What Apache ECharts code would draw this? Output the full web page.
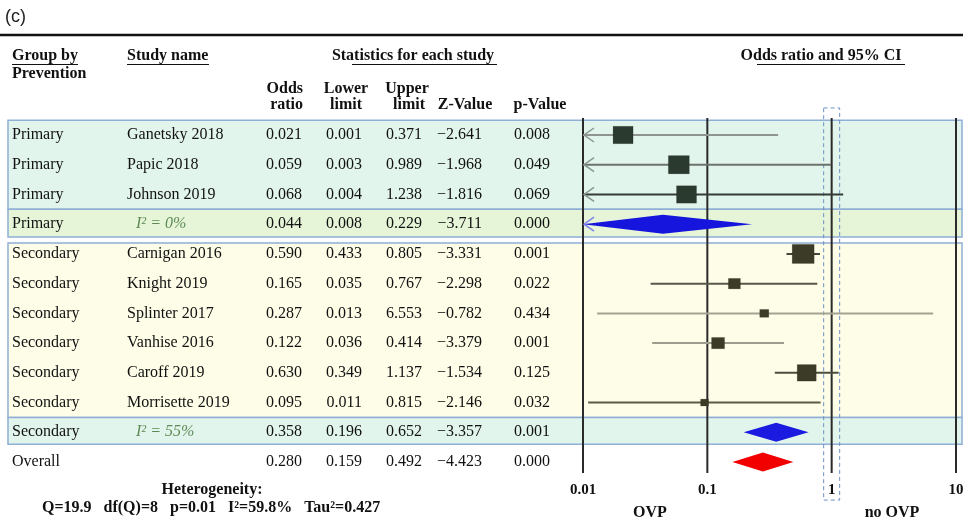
<!DOCTYPE html>
<html>
<head>
<meta charset="utf-8">
<script src="https://cdn.jsdelivr.net/npm/echarts@6.0.0/dist/echarts.min.js"></script>
<style>html,body{margin:0;padding:0;background:#fff;}#chart{width:963px;height:521px;}</style>
</head>
<body>
<div id="chart"></div>
<script>
// ---------- data ----------
const groups = ['Primary','Primary','Primary','Primary','Secondary','Secondary','Secondary','Secondary','Secondary','Secondary','Secondary','Overall'];
const studyNames = ['Ganetsky 2018','Papic 2018','Johnson 2019','I\u00B2 = 0%','Carnigan 2016','Knight 2019','Splinter 2017','Vanhise 2016','Caroff 2019','Morrisette 2019','I\u00B2 = 55%',''];
const rowKinds = ['study','study','study','summary','study','study','study','study','study','study','summary','overall'];
const oddsRatio = [0.021,0.059,0.068,0.044,0.590,0.165,0.287,0.122,0.630,0.095,0.358,0.280];
const lowerLimit = [0.001,0.003,0.004,0.008,0.433,0.035,0.013,0.036,0.349,0.011,0.196,0.159];
const upperLimit = [0.371,0.989,1.238,0.229,0.805,0.767,6.553,0.414,1.137,0.815,0.652,0.492];
const zValue = [-2.641,-1.968,-1.816,-3.711,-3.331,-2.298,-0.782,-3.379,-1.534,-2.146,-3.357,-4.423];
const pValue = [0.008,0.049,0.069,0.000,0.001,0.022,0.434,0.001,0.125,0.032,0.001,0.000];
// relative weight (% of largest box area)
const relativeWeight = [83,91,83,null,100,30,17,35,75,13,null,null];
const axisTicks = [0.01,0.1,1,10];

// ---------- styles / layout ----------
const AX_MIN = 0.01, AX_MAX = 10;
const lineColors = ['#8e948e','#6c726c','#353c35',null,'#45453a','#58584a','#a3a391','#9d9d8e','#4d4d3e','#5a5a46',null,null];
const squareColors = {Primary:'#2b3a2f', Secondary:'#3b3b27'};
const diamondColors = ['', '', '', '#1515dd', '', '', '', '', '', '', '#1a1ae0', '#f20000'];
const boxes = [
  {top:-0.5, bottom:2.5, fill:'#e2f5ec'},
  {top:2.5, bottom:3.43, fill:'#e6f5d8'},
  {top:3.63, bottom:9.5, fill:'#fefde7'},
  {top:9.5, bottom:10.4, fill:'#e2f5ec'}
];
const SERIF = '"Liberation Serif","Times New Roman",serif';
const fmt3 = v => v.toFixed(3);
const fmtZ = v => (v < 0 ? '\u2212' : '') + Math.abs(v).toFixed(3);

const chart = echarts.init(document.getElementById('chart'), null, {renderer:'canvas'});

function T(text, x, y, opt) {
  opt = opt || {};
  return {type:'text', x:x, y:y, silent:true, z: 50, style:{
    text:text, font: opt.font || ('bold 16px ' + SERIF), fill: opt.fill || '#111',
    align: opt.align || 'left', textAlign: opt.align || 'left',
    verticalAlign:'middle', textVerticalAlign:'middle'}};
}
function L(x1, y1, x2, y2, w, c) {
  return {type:'line', silent:true, z:50, shape:{x1:x1,y1:y1,x2:x2,y2:y2}, style:{stroke:c||'#222', lineWidth:w||1}};
}

const graphics = [
  T('(c)', 5, 17, {font:'18px "Liberation Sans",Arial,sans-serif', fill:'#222'}),
  L(0, 35, 963, 35, 2.5, '#111'),
  T('Group by', 12, 56), L(12, 64.5, 78, 64.5, 1.2, '#111'),
  T('Prevention', 12, 74),
  T('Study name', 127, 56), L(127, 64.5, 209, 64.5, 1.2, '#111'),
  T('Statistics for each study', 413, 56, {align:'center'}), L(352, 64.5, 497, 64.5, 1.2, '#111'),
  T('Odds ratio and 95% CI', 821, 56, {align:'center'}), L(757, 64.5, 905, 64.5, 1.2, '#111'),
  T('Odds', 303, 89, {align:'right'}), T('ratio', 303, 105, {align:'right'}),
  T('Lower', 346, 89, {align:'center'}), T('limit', 346, 105, {align:'center'}),
  T('Upper', 407, 89, {align:'center'}), T('limit', 409, 105, {align:'center'}),
  T('Z-Value', 465, 105, {align:'center'}),
  T('p-Value', 540, 105, {align:'center'}),
  T('Heterogeneity:', 212, 490, {align:'center'}),
  T('Q=19.9   df(Q)=8   p=0.01   I\u00B2=59.8%   Tau\u00B2=0.427', 42, 508),
  T('OVP', 650, 513, {align:'center'}),
  T('no OVP', 892, 513, {align:'center'})
];

const rowIdx = oddsRatio.map((v, i) => i);

const option = {
  animation: false,
  backgroundColor: '#ffffff',
  grid: {left: 583, right: 7, top: 105.27, bottom: 41.14, containLabel: false, outerBoundsMode: 'none'},
  xAxis: {
    type: 'log', logBase: 10, min: AX_MIN, max: AX_MAX,
    axisLine: {show:false}, axisTick: {show:false}, splitLine: {show:false},
    axisLabel: {show:true, margin: 3, color:'#111', fontFamily: SERIF, fontWeight:'bold', fontSize:15,
      hideOverlap: false, showMinLabel: true, showMaxLabel: true,
      formatter: v => String(+(+v).toPrecision(3))}
  },
  yAxis: {type:'value', min:-1, max:11.6, inverse:true, show:false},
  graphic: {elements: graphics},
  series: [
    { // background boxes
      type:'custom', clip:false, z:1, silent:true,
      data: boxes.map((b, i) => [1, b.top, b.bottom, i]),
      renderItem: (params, api) => {
        const b = boxes[params.dataIndex];
        const y1 = api.coord([1, b.top])[1], y2 = api.coord([1, b.bottom])[1];
        return {type:'rect', shape:{x:8, y:y1, width:954, height:y2 - y1},
          style:{fill:b.fill, stroke:'#8fafd6', lineWidth:1.5}};
      }
    },
    { // reference lines at ticks
      type:'custom', clip:false, z:2, silent:true,
      data: axisTicks.map(t => [t, 0]),
      renderItem: (params, api) => {
        const x = api.coord([api.value(0), 0])[0];
        const y1 = api.coord([1, -0.57])[1], y2 = api.coord([1, 11.37])[1];
        return {type:'line', shape:{x1:x, y1:y1, x2:x, y2:y2}, style:{stroke:'#2a2a2a', lineWidth:2}};
      }
    },
    { // dashed box around no-effect line
      type:'custom', clip:false, z:3, silent:true,
      data: [[1, 0]],
      renderItem: (params, api) => {
        const x = api.coord([1, 0])[0];
        const y1 = api.coord([1, -0.91])[1], y2 = api.coord([1, 12.28])[1];
        return {type:'rect', shape:{x:x - 8, y:y1, width:16, height:y2 - y1},
          style:{fill:'none', stroke:'#6f90c4', lineWidth:1, lineDash:[4,3]}};
      }
    },
    { // forest marks
      type:'custom', clip:false, z:4, silent:true,
      data: rowIdx.map(i => [oddsRatio[i], i, lowerLimit[i], upperLimit[i]]),
      renderItem: (params, api) => {
        const i = params.dataIndex;
        const or = api.value(0), lo = api.value(2), hi = api.value(3);
        const y = api.coord([1, i])[1];
        const xc = api.coord([or, i])[0];
        const xl = api.coord([Math.max(lo, AX_MIN), i])[0];
        const xh = api.coord([Math.min(hi, AX_MAX), i])[0];
        const kids = [];
        if (rowKinds[i] === 'study') {
          kids.push({type:'line', shape:{x1:xl, y1:y, x2:xh, y2:y}, style:{stroke:lineColors[i], lineWidth:2}});
          if (lo < AX_MIN) {
            kids.push({type:'polyline', shape:{points:[[xl + 11, y - 7], [xl + 1, y], [xl + 11, y + 7]]},
              style:{stroke:'#8a9690', lineWidth:1.5, fill:'none'}});
          }
          const w = 22 * Math.sqrt(relativeWeight[i] / 100), h = w * 0.87;
          kids.push({type:'rect', shape:{x:xc - w / 2, y:y - h / 2, width:w, height:h},
            style:{fill:squareColors[groups[i]], stroke:'rgba(0,0,0,0.25)', lineWidth:0.5}});
        } else {
          const hh = 9.5;
          kids.push({type:'polygon', shape:{points:[[xl, y], [xc, y - hh], [xh, y], [xc, y + hh]]},
            style:{fill:diamondColors[i]}});
          if (lo < AX_MIN) {
            kids.push({type:'polyline', shape:{points:[[xl + 11, y - 7], [xl + 1, y], [xl + 11, y + 7]]},
              style:{stroke:'#8080ee', lineWidth:1.5, fill:'none'}});
          }
        }
        return {type:'group', children:kids};
      }
    },
    { // table text
      type:'custom', clip:false, z:10, silent:true,
      data: rowIdx.map(i => [1, i]),
      renderItem: (params, api) => {
        const i = params.dataIndex;
        const y = api.coord([1, i])[1];
        const f = '16px ' + SERIF;
        const mk = (text, x, align, font, fill) => ({type:'text', style:{
          text:text, x:x, y:y, font:font || f, fill:fill || '#111',
          align:align, textAlign:align, verticalAlign:'middle', textVerticalAlign:'middle'}});
        const kids = [mk(groups[i], 12, 'left')];
        if (rowKinds[i] === 'summary') {
          kids.push(mk(studyNames[i], 136, 'left', 'italic 16px ' + SERIF, '#5e8b55'));
        } else if (studyNames[i]) {
          kids.push(mk(studyNames[i], 127, 'left'));
        }
        kids.push(mk(fmt3(oddsRatio[i]), 302, 'right'));
        kids.push(mk(fmt3(lowerLimit[i]), 362, 'right'));
        kids.push(mk(fmt3(upperLimit[i]), 422, 'right'));
        kids.push(mk(fmtZ(zValue[i]), 482, 'right'));
        kids.push(mk(fmt3(pValue[i]), 550, 'right'));
        return {type:'group', children:kids};
      }
    }
  ]
};
chart.setOption(option);
</script>
</body>
</html>
